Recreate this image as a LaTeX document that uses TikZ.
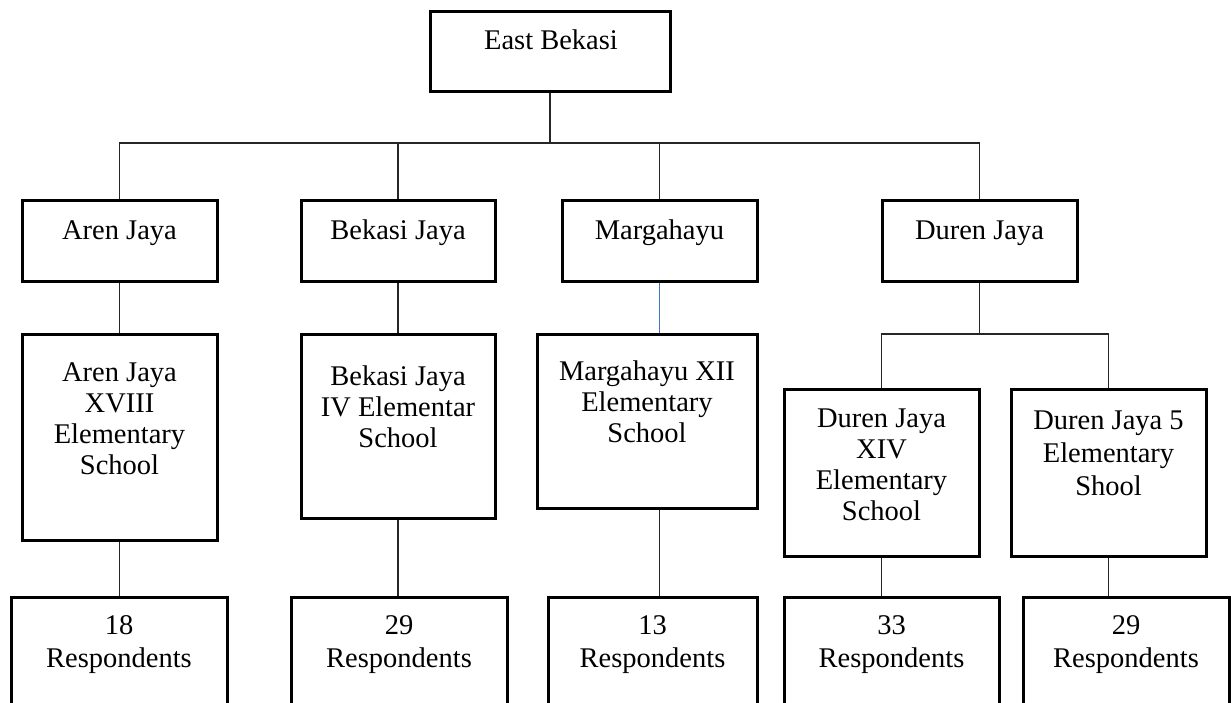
\documentclass[tikz,border=0pt]{standalone}
\usepackage{fontspec}
\setmainfont{Liberation Serif}
\usetikzlibrary{calc}
\definecolor{linkblue}{RGB}{68,114,196}
\begin{document}
\begin{tikzpicture}[x=1pt,y=-1pt,
  box/.style={draw=black, line width=3pt, inner sep=0pt},
  lbl/.style={anchor=base, align=center, inner sep=0pt, font=\fontsize{28.5}{31}\selectfont},
  lblb/.style={anchor=base, align=center, inner sep=0pt, font=\fontsize{28.5}{33}\selectfont},
  link/.style={draw=black!85, line width=1.3pt},
  bluelink/.style={draw=linkblue, line width=1.3pt}]
\clip (0,0) rectangle (1231,703);
% level 1
\node[box, minimum width=240pt, minimum height=80pt] (east) at (550,52) {};
% level 2
\node[box, minimum width=195pt, minimum height=81pt] (aren) at (119.5,241.5) {};
\node[box, minimum width=194pt, minimum height=81pt] (bekasi) at (398,241.5) {};
\node[box, minimum width=195pt, minimum height=81pt] (marga) at (659.5,241.5) {};
\node[box, minimum width=195pt, minimum height=81pt] (duren) at (979.5,241.5) {};
% level 3
\node[box, minimum width=195pt, minimum height=206pt] (arenS) at (119.5,437) {};
\node[box, minimum width=194pt, minimum height=184pt] (bekasiS) at (398,426) {};
\node[box, minimum width=220pt, minimum height=174pt] (margaS) at (647,421) {};
\node[box, minimum width=195pt, minimum height=167pt] (durenA) at (881.5,472.5) {};
\node[box, minimum width=195pt, minimum height=167pt] (durenB) at (1108.5,472.5) {};
% level 4
\node[box, minimum width=216pt, minimum height=123pt] (r1) at (119,658.5) {};
\node[box, minimum width=216pt, minimum height=123pt] (r2) at (399,658.5) {};
\node[box, minimum width=209pt, minimum height=123pt] (r3) at (652.5,658.5) {};
\node[box, minimum width=215pt, minimum height=123pt] (r4) at (891.5,658.5) {};
\node[box, minimum width=206pt, minimum height=123pt] (r5) at (1126,658.5) {};
% connectors
\coordinate (busL) at (119.5,143);
\coordinate (fork) at (979.5,334);
\draw[link] (east.south) -- (east.south |- busL);
\draw[link] (aren.north) -- (busL) -- (busL -| duren.north) -- (duren.north);
\draw[link] (bekasi.north) -- (bekasi.north |- busL);
\draw[link] (marga.north) -- (marga.north |- busL);
\draw[link] (aren.south) -- (arenS.north -| aren.south);
\draw[link] (bekasi.south) -- (bekasiS.north -| bekasi.south);
\draw[bluelink] (marga.south) -- (margaS.north -| marga.south);
\draw[link] (duren.south) -- (fork);
\draw[link] (durenA.north) -- (durenA.north |- fork) -- (durenB.north |- fork) -- (durenB.north);
\draw[link] (arenS.south) -- (r1.north -| arenS.south);
\draw[link] (bekasiS.south) -- (r2.north -| bekasiS.south);
\draw[link] (margaS.south -| marga.south) -- (r3.north -| marga.south);
\draw[link] (durenA.south) -- (r4.north -| durenA.south);
\draw[link] (durenB.south) -- (r5.north -| durenB.south);
% texts (anchor base = baseline of the last line)
\node[lbl] (eastT) at (551,50) {East Bekasi};
\node[lbl] (arenT) at (119.5,240) {Aren Jaya};
\node[lbl] (bekasiT) at (398,240) {Bekasi Jaya};
\node[lbl] (margaT) at (659.5,240) {Margahayu};
\node[lbl] (durenT) at (979.5,240) {Duren Jaya};
\node[lbl] (arenST) at (119.5,474) {Aren Jaya\\XVIII\\Elementary\\School};
\node[lbl] (bekasiST) at (398,447) {Bekasi Jaya\\IV Elementar\\School};
\node[lbl] (margaST) at (647,442) {Margahayu XII\\Elementary\\School};
\node[lbl] (durenAT) at (881.5,520) {Duren Jaya\\XIV\\Elementary\\School};
\node[lblb] (durenBT) at (1108.5,495) {Duren Jaya 5\\Elementary\\Shool};
\node[lblb] (r1T) at (119,667) {18\\Respondents};
\node[lblb] (r2T) at (399,667) {29\\Respondents};
\node[lblb] (r3T) at (652.5,667) {13\\Respondents};
\node[lblb] (r4T) at (891.5,667) {33\\Respondents};
\node[lblb] (r5T) at (1126,667) {29\\Respondents};
\end{tikzpicture}
\end{document}
